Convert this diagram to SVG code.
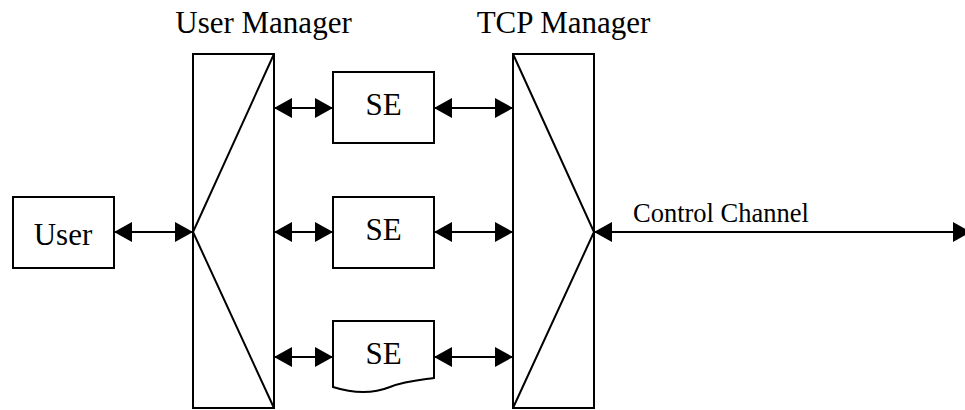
<svg xmlns="http://www.w3.org/2000/svg" width="965" height="410" viewBox="0 0 965 410">
<style>
.box{fill:#fff;stroke:#000;stroke-width:2}
.ln{fill:none;stroke:#000;stroke-width:2}
.t{font-family:"Liberation Serif","Times New Roman",serif;fill:#000}
.conn line{stroke:#000;stroke-width:2;marker-start:url(#ah);marker-end:url(#ah)}
</style>
<defs>
<marker id="ah" viewBox="0 0 18 20" refX="18" refY="10" markerWidth="18" markerHeight="20" markerUnits="userSpaceOnUse" orient="auto-start-reverse">
<path d="M0,0 L18,10 L0,20 Z" fill="#000"/>
</marker>
</defs>
<rect width="965" height="410" fill="#fff"/>
<g id="user">
<rect class="box" x="13" y="197" width="101" height="71"/>
<text class="t" x="63" y="245" font-size="31" text-anchor="middle">User</text>
</g>
<g id="user-manager">
<rect class="box" x="193" y="54" width="81" height="354"/>
<polyline class="ln" points="274,54 193,232 274,408"/>
<text class="t" x="263.5" y="33" font-size="31" text-anchor="middle">User Manager</text>
</g>
<g id="se1">
<rect class="box" x="333" y="72" width="101" height="71"/>
<text class="t" x="383.5" y="115" font-size="31" text-anchor="middle">SE</text>
</g>
<g id="se2">
<rect class="box" x="333" y="197" width="101" height="71"/>
<text class="t" x="383.5" y="240" font-size="31" text-anchor="middle">SE</text>
</g>
<g id="se3">
<path class="box" d="M333,321 H434 V378 C420,380 405,381 390,387 C375,393 355,394 333,387 Z"/>
<text class="t" x="383.5" y="364" font-size="31" text-anchor="middle">SE</text>
</g>
<g id="tcp-manager">
<rect class="box" x="513" y="54" width="81" height="354"/>
<polyline class="ln" points="513,54 594,232 513,408"/>
<text class="t" x="563.5" y="33" font-size="31" text-anchor="middle">TCP Manager</text>
</g>
<g id="control-channel-label">
<text class="t" x="633" y="222" font-size="26.5">Control Channel</text>
</g>
<g id="connectors" class="conn">
<line x1="114" y1="232" x2="193" y2="232"/>
<line x1="274" y1="108" x2="333" y2="108"/>
<line x1="274" y1="232" x2="333" y2="232"/>
<line x1="274" y1="357" x2="333" y2="357"/>
<line x1="434" y1="108" x2="513" y2="108"/>
<line x1="434" y1="232" x2="513" y2="232"/>
<line x1="434" y1="357" x2="513" y2="357"/>
<line x1="594" y1="232" x2="971" y2="232"/>
</g>
</svg>
